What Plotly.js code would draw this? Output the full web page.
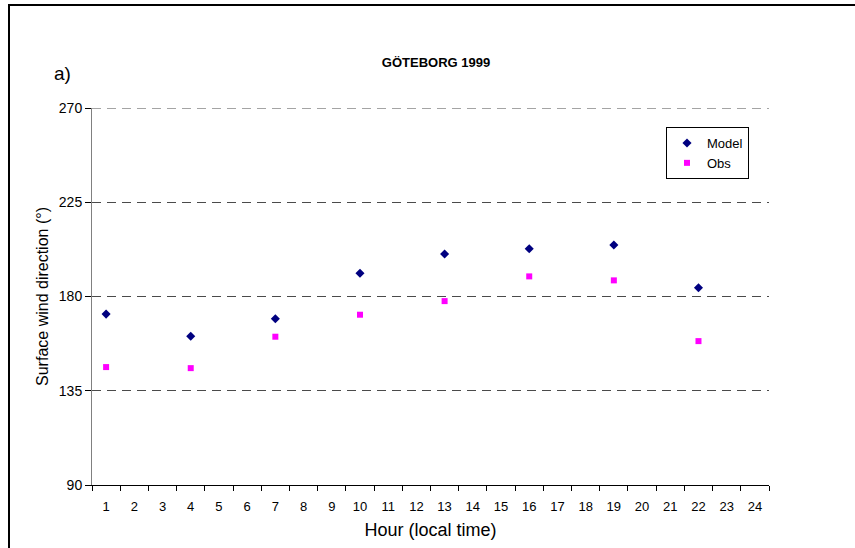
<!DOCTYPE html>
<html>
<head>
<meta charset="utf-8">
<script src="https://cdn.plot.ly/plotly-3.0.1.min.js"></script>
<style>
html,body{margin:0;padding:0;background:#fff;}
#chart{width:855px;height:548px;}
</style>
</head>
<body>
<div id="chart"></div>
<script>
// Data
const hourTicks = [1,2,3,4,5,6,7,8,9,10,11,12,13,14,15,16,17,18,19,20,21,22,23,24];
const hourBoundaries = [0.5,1.5,2.5,3.5,4.5,5.5,6.5,7.5,8.5,9.5,10.5,11.5,12.5,13.5,14.5,15.5,16.5,17.5,18.5,19.5,20.5,21.5,22.5,23.5,24.5];
const hours = [1, 4, 7, 10, 13, 16, 19, 22];
const modelValues = [171.6, 161.0, 169.4, 191.1, 200.3, 202.8, 204.6, 184.2];
const obsValues = [146.3, 145.8, 160.8, 171.3, 177.8, 189.6, 187.7, 158.7];
const yTicks = [90, 135, 180, 225, 270];

const FONT = "Liberation Sans, Arial, sans-serif";

// plot area in pixels: x 92..769, y 108..485
const L = 92, R = 769, T = 108, B = 485;
const W = R - L, H = B - T;
const px = x => (x - L) / W;
const py = y => (B - y) / H;

const GRID = "#4a4a4a";
const DASH = "9px,6px";

const traces = [
  {
    type: "scatter", mode: "markers", name: "Model",
    x: hours, y: modelValues,
    marker: {symbol: "diamond", size: 7, color: "#000080"}
  },
  {
    type: "scatter", mode: "markers", name: "Obs",
    x: hours, y: obsValues,
    marker: {symbol: "square", size: 6, color: "#FF00FF"}
  }
];

const layout = {
  width: 855, height: 548,
  margin: {l: L, r: 855 - R, t: T, b: 548 - B, pad: 0},
  paper_bgcolor: "#fff", plot_bgcolor: "#fff",
  font: {family: FONT, color: "#000", size: 13},
  title: {
    text: "<b>GÖTEBORG 1999</b>",
    font: {family: FONT, size: 13, color: "#000"},
    xref: "container", x: 436 / 855, xanchor: "center",
    yref: "container", y: 1 - 62 / 548, yanchor: "middle"
  },
  xaxis: {
    range: [0.5, 24.5],
    tickmode: "array", tickvals: hourTicks, ticktext: hourTicks.map(String),
    ticks: "", ticklen: 0, ticklabelstandoff: 9,
    minor: {tickmode: "array", tickvals: hourBoundaries, ticks: "outside", ticklen: 5, tickcolor: "#000", tickwidth: 1, showgrid: false},
    showline: true, linecolor: "#000", linewidth: 1,
    showgrid: false, zeroline: false,
    tickfont: {family: FONT, size: 13, color: "#000"},
    title: {text: "Hour (local time)", font: {family: FONT, size: 18, color: "#000"}, standoff: 10}
  },
  yaxis: {
    range: [90, 270],
    tickvals: yTicks,
    ticks: "outside", ticklen: 6, tickcolor: "#000", tickwidth: 1,
    showline: true, linecolor: "#808080", linewidth: 1,
    showgrid: true, gridcolor: GRID, griddash: DASH, gridwidth: 1,
    zeroline: false,
    tickfont: {family: FONT, size: 14, color: "#000"},
    title: {text: "Surface wind direction (°)", font: {family: FONT, size: 16, color: "#000"}, standoff: 6}
  },
  showlegend: true,
  legend: {
    x: px(666), y: py(127), xanchor: "left", yanchor: "top",
    bgcolor: "#fff", bordercolor: "#000", borderwidth: 1,
    font: {family: FONT, size: 13, color: "#000"},
    tracegroupgap: 0, itemwidth: 30
  },
  annotations: [
    {
      text: "a)", xref: "paper", yref: "paper",
      x: px(52), y: py(73), xanchor: "left", yanchor: "middle",
      showarrow: false, font: {family: FONT, size: 19, color: "#000"}
    }
  ],
  shapes: [
    {type: "line", xref: "paper", yref: "y", x0: 0, x1: 1, y0: 270, y1: 270, line: {color: GRID, width: 1, dash: DASH}},
    {type: "line", xref: "paper", yref: "paper", x0: px(9), x1: px(9), y0: py(4), y1: py(560), line: {color: "#000", width: 2}},
    {type: "line", xref: "paper", yref: "paper", x0: px(8), x1: px(870), y0: py(5), y1: py(5), line: {color: "#000", width: 2}}
  ]
};

Plotly.newPlot("chart", traces, layout, {displayModeBar: false, staticPlot: true});
</script>
</body>
</html>
